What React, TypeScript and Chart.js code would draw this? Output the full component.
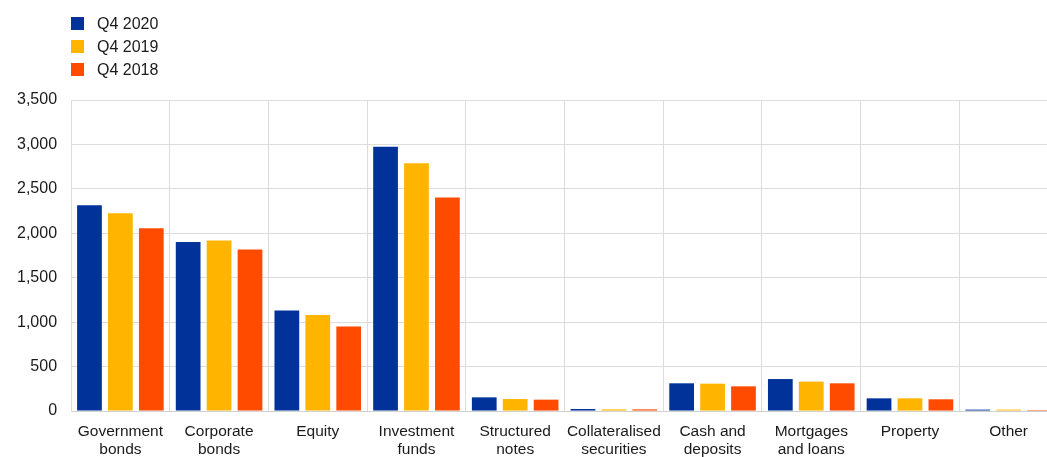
import React, { useEffect, useRef } from "react";
import { Chart, registerables } from "chart.js";

Chart.register(...registerables);

const categories: (string | string[])[] = [
  ["Government", "bonds"],
  ["Corporate", "bonds"],
  "Equity",
  ["Investment", "funds"],
  ["Structured", "notes"],
  ["Collateralised", "securities"],
  ["Cash and", "deposits"],
  ["Mortgages", "and loans"],
  "Property",
  "Other",
];
const seriesNames = ["Q4 2020", "Q4 2019", "Q4 2018"];
const q42020 = [2315, 1903, 1131, 2973, 154, 23, 312, 360, 143, 16];
const q42019 = [2226, 1919, 1081, 2789, 135, 19, 308, 331, 143, 16];
const q42018 = [2057, 1817, 950, 2403, 128, 19, 278, 312, 132, 11];
const seriesColors = ["#003299", "#FFB400", "#FF4B00"];
const yMin = 0;
const yMax = 3500;
const yStep = 500;

const FONT = "'Liberation Sans', Arial, sans-serif";

export default function App() {
  const ref = useRef<HTMLCanvasElement | null>(null);

  useEffect(() => {
    if (!ref.current) return;
    const seriesData = [q42020, q42019, q42018];
    const chart = new Chart(ref.current, {
      type: "bar",
      data: {
        labels: categories as any,
        datasets: seriesNames.map((name, i) => ({
          label: name,
          data: seriesData[i],
          backgroundColor: seriesColors[i],
          borderWidth: 0,
          barPercentage: 0.8,
          categoryPercentage: 0.94,
        })),
      },
      options: {
        responsive: false,
        animation: false,
        layout: { padding: { top: 100, left: 3, right: 4, bottom: 0 } },
        plugins: {
          legend: { display: false },
          tooltip: { enabled: false },
        },
        scales: {
          x: {
            grid: { color: "#dcdcdc", lineWidth: 1, drawTicks: false, offset: true },
            border: { color: "#d0d0d0" },
            ticks: {
              color: "#1a1a1a",
              font: { family: FONT, size: 15.5, lineHeight: 1.16 },
              padding: 12,
              maxRotation: 0,
              autoSkip: false,
            },
          },
          y: {
            min: yMin,
            max: yMax,
            grid: { color: "#dcdcdc", lineWidth: 1, drawTicks: false },
            border: { color: "#dcdcdc" },
            ticks: {
              stepSize: yStep,
              color: "#1a1a1a",
              font: { family: FONT, size: 16 },
              padding: 14,
              callback: (v: any) => Number(v).toLocaleString("en-US"),
            },
          },
        },
      },
    });
    return () => chart.destroy();
  }, []);

  return (
    <div
      style={{
        position: "fixed",
        left: 0,
        top: 0,
        width: 1047,
        height: 457,
        overflow: "hidden",
        background: "#fff",
      }}
    >
      <canvas ref={ref} width={1062} height={471} style={{ position: "absolute", left: 0, top: 0 }} />
      <div style={{ position: "absolute", left: 71, top: 12, fontFamily: FONT, fontSize: 16, color: "#1a1a1a" }}>
        {seriesNames.map((name, i) => (
          <div key={name} style={{ display: "flex", alignItems: "center", height: 23 }}>
            <span
              style={{
                display: "inline-block",
                width: 13,
                height: 13,
                background: seriesColors[i],
                marginRight: 13,
              }}
            />
            <span>{name}</span>
          </div>
        ))}
      </div>
    </div>
  );
}
